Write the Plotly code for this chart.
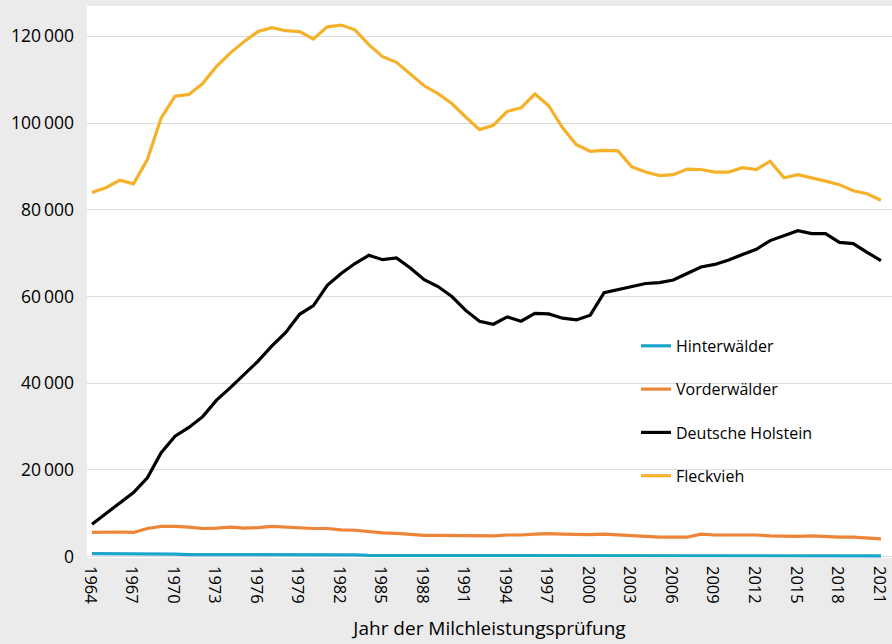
import plotly.graph_objects as go

years = list(range(1964, 2022))

fleckvieh = [84.0, 85.1, 86.8, 86.0, 91.6, 101.2, 106.2, 106.6, 109.1, 113.1,
             116.2, 118.8, 121.1, 122.0, 121.3, 121.1, 119.4, 122.2, 122.6, 121.5,
             118.1, 115.3, 114.0, 111.2, 108.6, 106.8, 104.5, 101.4, 98.5, 99.5,
             102.7, 103.5, 106.7, 104.0, 98.9, 95.0, 93.5, 93.7, 93.6, 89.9,
             88.7, 87.9, 88.1, 89.4, 89.3, 88.7, 88.7, 89.7, 89.3, 91.2,
             87.4, 88.1, 87.4, 86.6, 85.8, 84.4, 83.7, 82.2]

holstein = [7.5, 10.0, 12.5, 14.8, 18.2, 24.0, 27.8, 29.8, 32.3, 36.1,
            39.0, 42.1, 45.1, 48.6, 51.7, 55.9, 57.9, 62.6, 65.3, 67.6,
            69.5, 68.5, 68.9, 66.6, 63.9, 62.3, 60.0, 56.8, 54.3, 53.6,
            55.3, 54.3, 56.1, 56.0, 55.0, 54.6, 55.7, 60.9, 61.6, 62.4,
            63.0, 63.2, 63.8, 65.3, 66.8, 67.4, 68.4, 69.7, 70.9, 72.9,
            74.1, 75.2, 74.5, 74.5, 72.5, 72.2, 70.2, 68.3]

vorderwaelder = [5.6, 5.7, 5.7, 5.6, 6.5, 7.0, 7.0, 6.8, 6.5, 6.6,
                 6.8, 6.6, 6.7, 7.0, 6.8, 6.7, 6.5, 6.5, 6.2, 6.1,
                 5.8, 5.5, 5.4, 5.1, 4.9, 4.9, 4.9, 4.9, 4.8, 4.8,
                 5.0, 5.0, 5.2, 5.3, 5.2, 5.1, 5.1, 5.2, 5.0, 4.8,
                 4.7, 4.5, 4.5, 4.5, 5.2, 5.0, 5.0, 5.0, 5.0, 4.8,
                 4.7, 4.7, 4.8, 4.6, 4.5, 4.5, 4.3, 4.1]

hinterwaelder = [0.7, 0.7, 0.7, 0.7, 0.7, 0.6, 0.6, 0.5, 0.5, 0.5,
                 0.4, 0.4, 0.4, 0.4, 0.4, 0.4, 0.4, 0.4, 0.4, 0.4,
                 0.3, 0.3, 0.3, 0.3, 0.3, 0.3, 0.3, 0.3, 0.3, 0.3,
                 0.3, 0.3, 0.3, 0.3, 0.3, 0.3, 0.3, 0.3, 0.3, 0.3,
                 0.3, 0.3, 0.3, 0.3, 0.3, 0.3, 0.3, 0.3, 0.3, 0.3,
                 0.3, 0.3, 0.3, 0.3, 0.3, 0.3, 0.3, 0.2]

series_names = ["Hinterwälder", "Vorderwälder", "Deutsche Holstein", "Fleckvieh"]
series_colors = ["#1ba6c9", "#ee8437", "#000000", "#f5b12a"]
series_values = [hinterwaelder, vorderwaelder, holstein, fleckvieh]

y_tickvals = [0, 20000, 40000, 60000, 80000, 100000, 120000]
y_ticktext = ["0", "20\u2009000", "40\u2009000", "60\u2009000", "80\u2009000", "100\u2009000", "120\u2009000"]
x_tickvals = list(range(1964, 2022, 3))

x_title = "Jahr der Milchleistungsprüfung"

FONT = "Open Sans"

fig = go.Figure()
for name, color, vals in zip(series_names, series_colors, series_values):
    fig.add_trace(go.Scatter(
        x=years, y=[v * 1000 for v in vals], mode="lines", name=name,
        legendgroup=name,
        line=dict(color=color, width=3.2),
    ))

fig.update_layout(
    width=892, height=644,
    margin=dict(l=87, r=0, t=6, b=86, autoexpand=False),
    paper_bgcolor="#ebebeb",
    plot_bgcolor="#ffffff",
    font=dict(family=FONT, color="#000000", size=16),
    showlegend=True,
    legend=dict(
        x=0.682, y=0.415, xanchor="left", yanchor="top",
        bgcolor="rgba(0,0,0,0)",
        font=dict(family=FONT, size=16, color="#000000"),
        tracegroupgap=19.5,
        itemwidth=30,
    ),
    xaxis=dict(
        range=[1963.64, 2021.8],
        tickvals=x_tickvals,
        tickangle=90,
        showgrid=False, zeroline=False, showline=False,
        ticks="", ticklabelstandoff=7,
        ticklabelshift=-2,
        ticklabeloverflow="allow",
        tickfont=dict(family=FONT, size=16.5, color="#000000"),
        title=dict(text=x_title, font=dict(family=FONT, size=19, color="#000000"), standoff=18),
    ),
    yaxis=dict(
        range=[-300, 127000],
        tickvals=y_tickvals, ticktext=y_ticktext,
        showgrid=True, gridcolor="#dcdcdc", gridwidth=1,
        zeroline=False, showline=False,
        ticks="", ticklabelstandoff=12,
        tickfont=dict(family=FONT, size=17.5, color="#000000"),
    ),
)

fig.write_html("out.html", config={"displayModeBar": False},
               post_script="document.body.style.margin='0px';document.body.style.padding='0px';")
